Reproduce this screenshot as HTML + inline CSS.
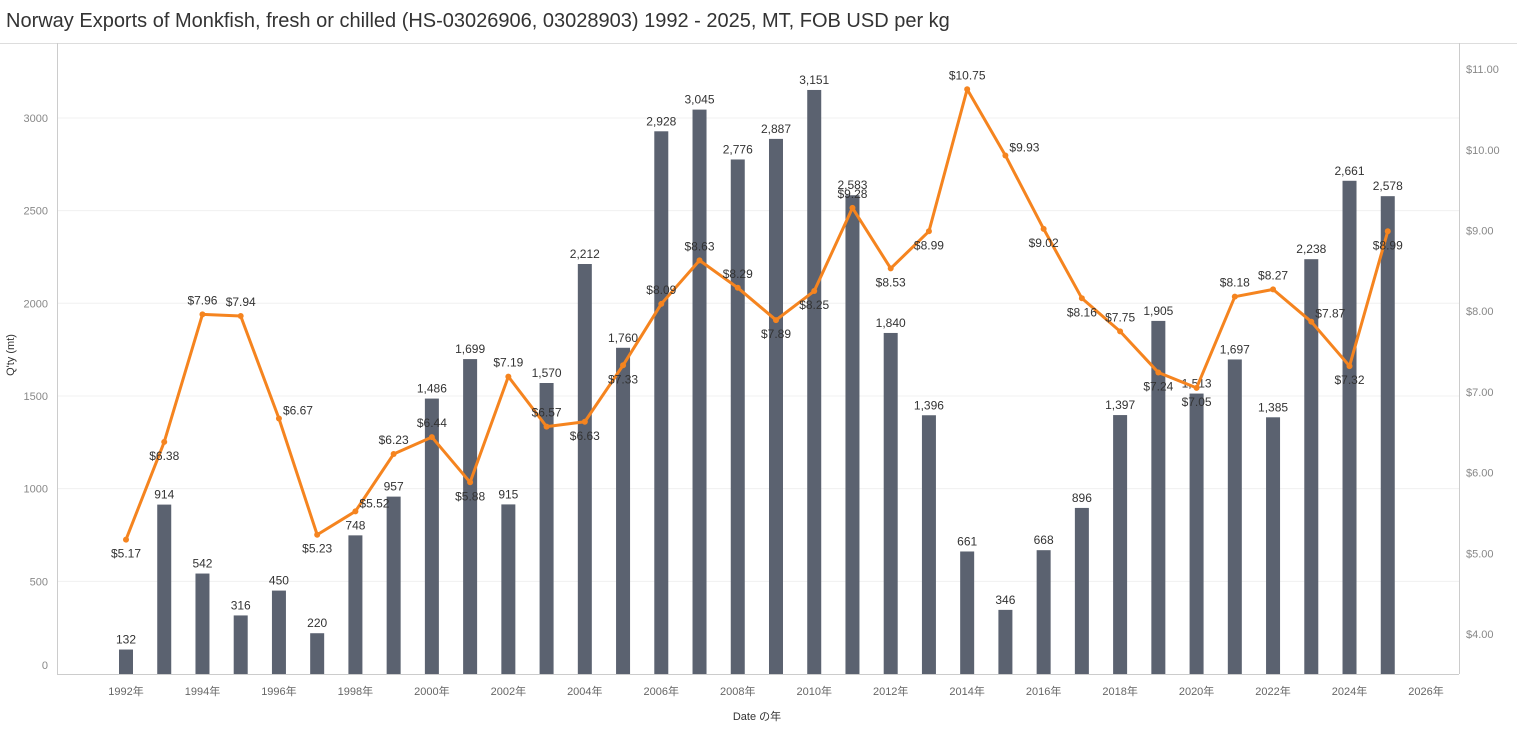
<!DOCTYPE html>
<html><head><meta charset="utf-8"><style>
body{margin:0;background:#fff;font-family:"Liberation Sans","Noto Sans CJK JP",sans-serif}
svg text{font-family:"Liberation Sans","Noto Sans CJK JP",sans-serif}
</style></head><body>
<svg id="c" width="1517" height="732" xmlns="http://www.w3.org/2000/svg"></svg>
<script>
const q=[132,914,542,316,450,220,748,957,1486,1699,915,1570,2212,1760,2928,3045,2776,2887,3151,2583,1840,1396,661,346,668,896,1397,1905,1513,1697,1385,2238,2661,2578];
const p=[5.17,6.38,7.96,7.94,6.67,5.23,5.52,6.23,6.44,5.88,7.19,6.57,6.63,7.33,8.09,8.63,8.29,7.89,8.25,9.28,8.53,8.99,10.75,9.93,9.02,8.16,7.75,7.24,7.05,8.18,8.27,7.87,7.32,8.99];
const pos="bbaarbraabaabbaaabbabbarbbabbaarbb";
const X=y=>126+(y-1992)*38.235, Y=v=>674-v*0.18535, P=v=>634-(v-4)*80.7;
let s='';
s+=`<text x="6" y="27" font-size="20" fill="#333">Norway Exports of Monkfish, fresh or chilled (HS-03026906, 03028903) 1992 - 2025, MT, FOB USD per kg</text>`;
s+=`<line x1="0" y1="43.5" x2="1517" y2="43.5" stroke="#ddd"/>`;
for(let v=500;v<=3000;v+=500){s+=`<line x1="57" x2="1459" y1="${Y(v)}" y2="${Y(v)}" stroke="#f0f0f0"/>`;}
for(let v=0;v<=3000;v+=500){s+=`<text x="48" y="${Math.min(Y(v)+4,669)}" font-size="11" fill="#888" text-anchor="end">${v}</text>`;}
for(let v=4;v<=11;v++){s+=`<text x="1466" y="${P(v)+4}" font-size="11" fill="#888">$${v}.00</text>`;}
s+=`<line x1="57.5" x2="57.5" y1="43" y2="674" stroke="#ccc"/><line x1="1459.5" x2="1459.5" y1="43" y2="674" stroke="#ccc"/><line x1="57" x2="1459" y1="674.5" y2="674.5" stroke="#ccc"/>`;
for(let y=1992;y<=2026;y+=2){s+=`<text x="${X(y)}" y="695" font-size="11" fill="#666" text-anchor="middle">${y}年</text>`;}
s+=`<text x="757" y="720" font-size="11" fill="#333" text-anchor="middle">Date の年</text>`;
s+=`<text transform="translate(14,355) rotate(-90)" font-size="11" fill="#333" text-anchor="middle">Q'ty (mt)</text>`;
q.forEach((v,i)=>{const x=X(1992+i);s+=`<rect x="${x-7}" y="${Y(v)}" width="14" height="${v*0.18535}" fill="#5b6270"/>`;
s+=`<text x="${x}" y="${Y(v)-6}" font-size="12" fill="#333" text-anchor="middle">${v.toLocaleString('en-US')}</text>`;});
s+=`<polyline fill="none" stroke="#f5841f" stroke-width="3" stroke-linejoin="round" points="${p.map((v,i)=>X(1992+i)+','+P(v)).join(' ')}"/>`;
p.forEach((v,i)=>{const x=X(1992+i),y=P(v);s+=`<circle cx="${x}" cy="${y}" r="3" fill="#f5841f"/>`;
const c=pos[i];let tx=x,ty=c=='a'?y-10:c=='b'?y+18:y-4,an='middle';if(c=='r'){tx=x+4;an='start';}
s+=`<text x="${tx}" y="${ty}" font-size="12" fill="#333" text-anchor="${an}">$${v.toFixed(2)}</text>`;});
document.getElementById('c').innerHTML=s;
</script>
</body></html>
